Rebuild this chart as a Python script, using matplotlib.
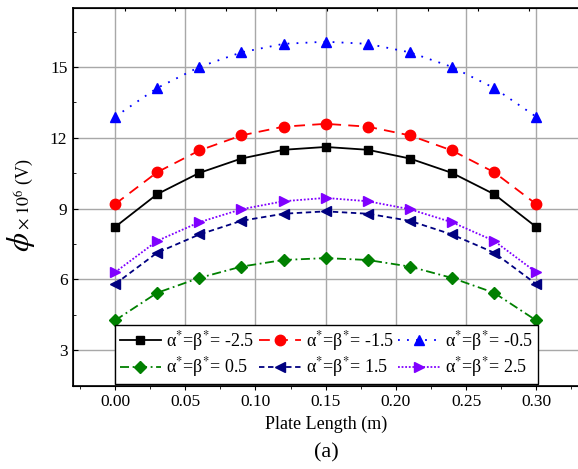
import matplotlib
matplotlib.use('Agg')
import matplotlib.pyplot as plt
from matplotlib.ticker import MultipleLocator
import numpy as np

plt.rcParams['font.family'] = ['Liberation Serif', 'DejaVu Serif']
plt.rcParams['mathtext.fontset'] = 'stix'

# plate length positions (m)
plate_x = [0.00, 0.03, 0.06, 0.09, 0.12, 0.15, 0.18, 0.21, 0.24, 0.27, 0.30]

# electric potential (x 1e6 V) for each alpha*=beta* case
phi_m25 = [8.22, 9.61, 10.51, 11.12, 11.49, 11.61, 11.49, 11.12, 10.51, 9.61, 8.22]
phi_m15 = [9.19, 10.54, 11.46, 12.10, 12.47, 12.59, 12.47, 12.10, 11.46, 10.54, 9.19]
phi_m05 = [12.89, 14.11, 15.00, 15.62, 15.98, 16.07, 15.98, 15.62, 15.00, 14.11, 12.89]
phi_p05 = [4.26, 5.43, 6.06, 6.54, 6.82, 6.90, 6.82, 6.54, 6.06, 5.43, 4.26]
phi_p15 = [5.80, 7.13, 7.90, 8.48, 8.78, 8.88, 8.78, 8.48, 7.90, 7.13, 5.80]
phi_p25 = [6.30, 7.63, 8.42, 8.97, 9.31, 9.45, 9.31, 8.97, 8.42, 7.63, 6.30]

series = [
    (phi_m25, '-2.5', 'black', '-', 's', 6),
    (phi_m15, '-1.5', '#ff0000', (0, (6, 4)), 'o', 7.5),
    (phi_m05, '-0.5', '#0000ff', (0, (1, 4)), '^', 7.5),
    (phi_p05, '0.5', '#008000', (0, (5, 2, 1, 2)), 'D', 6),
    (phi_p15, '1.5', '#000080', (0, (3, 2)), '<', 7.5),
    (phi_p25, '2.5', '#8000ff', (0, (1, 1)), '>', 7.5),
]

fig = plt.figure(figsize=(5.78, 4.69), dpi=100)
ax = fig.add_axes([0.1263, 0.178, 0.8742, 0.805])

for vals, lab, col, ls, mk, ms in series:
    ax.plot(plate_x, vals, color=col, linestyle=ls, linewidth=1.3,
            marker=mk, markersize=ms, markeredgecolor=col, markerfacecolor=col,
            label='α$^{*}$=β$^{*}$= ' + lab, zorder=3)

ax.set_xlim(-0.03, 0.33)
ax.set_ylim(1.5, 17.5)
ax.xaxis.set_major_locator(MultipleLocator(0.05))
ax.xaxis.set_minor_locator(MultipleLocator(0.025))
ax.yaxis.set_major_locator(MultipleLocator(3))
ax.yaxis.set_minor_locator(MultipleLocator(1.5))
ax.xaxis.set_major_formatter(matplotlib.ticker.FormatStrFormatter('%.2f'))

ax.grid(True, which='major', color='#a8a8a8', linewidth=1.0, zorder=0)
ax.set_axisbelow(True)

ax.spines['right'].set_visible(False)
for s in ['left', 'bottom', 'top']:
    ax.spines[s].set_linewidth(1.2)

ax.tick_params(axis='y', which='both', direction='in', labelsize=12.5, pad=4)
ax.tick_params(axis='y', which='major', length=3.5)
ax.tick_params(axis='y', which='minor', length=2)
ax.tick_params(axis='x', which='both', direction='out', labelsize=12.5, pad=3)
ax.tick_params(axis='x', which='major', length=3)
ax.tick_params(axis='x', which='minor', length=2)

# small inner ticks along the top edge
top = ax.twiny()
top.set_xlim(ax.get_xlim())
top.set_xticks(np.arange(0.0067, 0.33, 0.036))
top.tick_params(axis='x', direction='in', length=2.5, labeltop=False)
top.spines['right'].set_visible(False)

ax.set_xlabel('Plate Length (m)', fontsize=13, labelpad=4)

# y label: large italic phi followed by the scale and unit
fig.text(0.036, 0.505, r'$\phi$', rotation=90, fontsize=22,
         ha='center', va='top')
fig.text(0.042, 0.510, r'$\times\;10^{6}$ (V)', rotation=90, fontsize=13,
         ha='center', va='bottom')

fig.text(0.564, 0.035, '(a)', fontsize=16, ha='center', va='center')

# legend filled row by row
handles, labels = ax.get_legend_handles_labels()
order = [0, 3, 1, 4, 2, 5]
leg = ax.legend([handles[i] for i in order], [labels[i] for i in order],
                loc='lower left', bbox_to_anchor=(0.0831, 0.004, 0.837, 0.127),
                mode='expand', borderaxespad=0, ncol=3, fontsize=13,
                handlelength=2.3, handletextpad=0.3, columnspacing=0.4,
                labelspacing=0.12, borderpad=0.25, fancybox=False,
                framealpha=1, edgecolor='black')
leg.get_frame().set_linewidth(1.0)
leg.set_zorder(5)

fig.savefig('out.png', dpi=100)
